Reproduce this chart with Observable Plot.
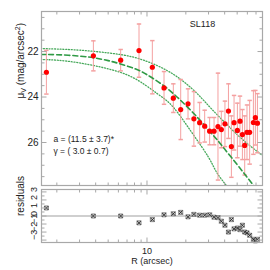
<!DOCTYPE html>
<html><head><meta charset="utf-8">
<script src="https://cdn.jsdelivr.net/npm/d3@7"></script>
<script src="https://cdn.jsdelivr.net/npm/@observablehq/plot@0.6"></script>
<style>
html,body{margin:0;padding:0;background:#fff;}
#chart svg{display:block;}
</style></head><body><div id="chart"></div>
<script>
// observed profile (R in arcsec, surface brightness in mag/arcsec^2)
const R = [1.66, 3.84, 6.25, 8.67, 11.0, 13.55, 16.0, 18.25, 20.8, 23.1, 25.6, 28.0, 30.6, 33.1, 35.5, 37.7, 40.2, 42.8, 45.1, 47.3, 50.2, 52.6, 54.9, 57.2, 59.6, 62.5, 66.8, 69.2, 71.8];
const mu = [22.91, 22.19, 22.38, 21.96, 22.69, 23.60, 24.05, 24.55, 24.30, 24.96, 25.13, 25.28, 25.50, 25.50, 25.30, 25.43, 25.18, 24.62, 26.18, 25.13, 25.47, 25.06, 25.65, 26.13, 25.55, 25.55, 25.12, 24.91, 25.15];
const muErr = [0.96, 0.66, 0.47, 1.17, 1.17, 0.72, 0.63, 1.32, 0.66, 1.2, 0.89, 0.7, 0.6, 0.6, 2.35, 0.8, 1.0, 1.2, 1.35, 1.2, 1.2, 1.1, 1.1, 1.3, 1.2, 1.4, 1.4, 1.2, 1.3];
const resid = [1.0, 0.0, 0.0, -0.85, -0.45, 0.15, 0.28, 0.45, -0.1, 0.2, 0.1, 0.1, 0.15, -0.15, -0.2, -0.65, -1.15, -2.0, -0.45, -1.6, -1.5, -1.7, -1.15, -2.0, -2.1, -2.4, -2.9, -3.1, -2.9];

// fitted curve and its bounds
const fitR = [1.5, 2, 3, 4, 5, 6, 8, 10, 13, 16, 20, 25, 30, 35, 40, 50, 60, 70];
const fitMu = [22.13, 22.14, 22.20, 22.29, 22.40, 22.52, 22.75, 23.02, 23.44, 23.85, 24.37, 24.94, 25.45, 25.88, 26.29, 26.97, 27.54, 28.03];
const upperR = [1.5, 2, 3, 5, 8, 12, 16, 20, 25, 32, 45, 60, 80];
const upperMu = [21.87, 21.89, 21.94, 22.06, 22.26, 22.62, 23.0, 23.4, 23.9, 24.55, 25.4, 26.05, 26.6];
const lowerR = [1.5, 2, 3, 5, 8, 12, 16, 22.5, 30, 35, 42, 50];
const lowerMu = [22.35, 22.38, 22.5, 22.76, 23.18, 23.85, 24.45, 25.6, 26.65, 27.35, 27.95, 28.6];

// ticks
const xMajorTicks = [10];
const xMinorTicks = [2, 3, 4, 5, 6, 7, 8, 9, 20, 30, 40, 50, 60, 70];
const yMajor = [22, 24, 26];
const yMinor = [20.5, 21, 21.5, 22.5, 23, 23.5, 24.5, 25, 25.5, 26.5, 27, 27.5];
const rMajor = [3, 2, 1, 0, -1, -2, -3];
const rMinor = [-2.5, -1.5, -0.5, 0.5, 1.5, 2.5];

const objectName = "SL118";
const paramA = "a = (11.5 ± 3.7)*";
const paramG = "γ = ( 3.0 ± 0.7)";
const yLabel = "μV (mag/arcsec2)";
const rLabel = "residuals";
const xLabel = "R (arcsec)";

const points = R.map((r, i) => ({R: r, mu: mu[i], err: muErr[i], res: resid[i]}));
const fit = fitR.map((r, i) => ({R: r, mu: fitMu[i]}));
const upper = upperR.map((r, i) => ({R: r, mu: upperMu[i]}));
const lower = lowerR.map((r, i) => ({R: r, mu: lowerMu[i]}));

const GRAY = "#a8a8a8";
const seg = (dx, dy) => ({draw(ctx, size) { const r = Math.sqrt(size / Math.PI); ctx.moveTo(0, 0); ctx.lineTo(dx * r, dy * r); }});
const hbar = {draw(ctx, size) { const r = Math.sqrt(size / Math.PI); ctx.moveTo(-r, 0); ctx.lineTo(r, 0); }};

function frameTicks(yMaj, yMin) {
  const c = {stroke: GRAY, strokeWidth: 1, fill: "none"};
  return [
    Plot.dot(xMinorTicks, {x: d => d, frameAnchor: "top", symbol: seg(0, 1), r: 3, ...c}),
    Plot.dot(xMajorTicks, {x: d => d, frameAnchor: "top", symbol: seg(0, 1), r: 5, ...c}),
    Plot.dot(xMinorTicks, {x: d => d, frameAnchor: "bottom", symbol: seg(0, -1), r: 3, ...c}),
    Plot.dot(xMajorTicks, {x: d => d, frameAnchor: "bottom", symbol: seg(0, -1), r: 5, ...c}),
    Plot.dot(yMin, {y: d => d, frameAnchor: "left", symbol: seg(1, 0), r: 3, ...c}),
    Plot.dot(yMaj, {y: d => d, frameAnchor: "left", symbol: seg(1, 0), r: 5, ...c}),
    Plot.dot(yMin, {y: d => d, frameAnchor: "right", symbol: seg(-1, 0), r: 3, ...c}),
    Plot.dot(yMaj, {y: d => d, frameAnchor: "right", symbol: seg(-1, 0), r: 5, ...c})
  ];
}

const xScale = {type: "log", domain: [1.521, 78.6]};
const style = {fontFamily: "'Liberation Sans', Arial, sans-serif", fontSize: "10px", color: "#222", background: "white", overflow: "visible"};

const topPlot = Plot.plot({
  width: 270, height: 187,
  marginLeft: 41, marginRight: 8, marginTop: 11, marginBottom: 2,
  style,
  x: {...xScale, axis: null},
  y: {domain: [27.89, 20.24]},
  marks: [
    Plot.line(upper, {x: "R", y: "mu", curve: "natural", stroke: "#46a85a", strokeWidth: 1.3, strokeDasharray: "1,1.8", clip: true}),
    Plot.line(lower, {x: "R", y: "mu", curve: "natural", stroke: "#46a85a", strokeWidth: 1.3, strokeDasharray: "1,1.8", clip: true}),
    Plot.ruleX(points, {x: "R", y1: d => d.mu - d.err, y2: d => d.mu + d.err, stroke: "#f4a0a0", strokeWidth: 1, clip: true}),
    Plot.dot(points, {x: "R", y: d => d.mu - d.err, symbol: hbar, r: 2.2, stroke: "#f4a0a0", fill: "none", clip: true}),
    Plot.dot(points, {x: "R", y: d => d.mu + d.err, symbol: hbar, r: 2.2, stroke: "#f4a0a0", fill: "none", clip: true}),
    Plot.line(fit, {x: "R", y: "mu", curve: "natural", stroke: "#2f9a45", strokeWidth: 1.6, strokeDasharray: "5,3", clip: true}),
    Plot.dot(points, {x: "R", y: "mu", r: 2.6, fill: "#ff0000", stroke: "none"}),
    Plot.frame({stroke: GRAY, strokeWidth: 1.2}),
    ...frameTicks(yMajor, yMinor),
    Plot.axisY({anchor: "left", ticks: yMajor, tickSize: 0, tickPadding: 3, fontSize: 10, label: null, tickFormat: d => String(d)}),
    Plot.text([objectName], {text: d => d, frameAnchor: "top-right", dx: -60, dy: 13, fontSize: 9, textAnchor: "middle", lineAnchor: "middle"}),
    Plot.text([paramA], {text: d => d, frameAnchor: "bottom-left", dx: 12, dy: -46, fontSize: 8.5, textAnchor: "start", lineAnchor: "middle"}),
    Plot.text([paramG], {text: d => d, frameAnchor: "bottom-left", dx: 12, dy: -34, fontSize: 8.5, textAnchor: "start", lineAnchor: "middle"}),
    Plot.text([yLabel], {text: d => d, frameAnchor: "left", dx: -21, rotate: -90, fontSize: 10})
  ]
});

const bottomPlot = Plot.plot({
  width: 270, height: 83,
  marginLeft: 41, marginRight: 8, marginTop: 2, marginBottom: 28,
  style,
  x: xScale,
  y: {domain: [-3.3, 3.3], axis: null},
  marks: [
    Plot.ruleY([0], {stroke: "#cfcfcf", strokeWidth: 2}),
    Plot.dot(points, {x: "R", y: "res", symbol: "square", r: 2.3, fill: "#d6d6d6", stroke: "#777", strokeWidth: 0.8}),
    Plot.dot(points, {x: "R", y: "res", symbol: "times", r: 1.9, stroke: "#222", strokeWidth: 0.9, fill: "none"}),
    Plot.frame({stroke: GRAY, strokeWidth: 1.2}),
    ...frameTicks(rMajor, rMinor),
    Plot.text(rMajor, {y: d => d, text: d => d < 0 ? "−" + Math.abs(d) : String(d), frameAnchor: "left", dx: -7, rotate: -90, fontSize: 9}),
    Plot.text([rLabel], {text: d => d, frameAnchor: "left", dx: -21, rotate: -90, fontSize: 10}),
    Plot.axisX({anchor: "bottom", ticks: xMajorTicks, tickSize: 0, tickPadding: 5, fontSize: 9, label: null, tickFormat: d => String(d)}),
    Plot.text([xLabel], {text: d => d, frameAnchor: "bottom", dy: 19, fontSize: 9, lineAnchor: "middle"})
  ]
});

function decorate(svg) {
  d3.select(svg).selectAll("text").each(function() {
    if (this.textContent === yLabel) {
      const t = d3.select(this);
      t.text(null);
      t.append("tspan").text("μ");
      t.append("tspan").attr("font-size", "7px").attr("dy", "2").text("V");
      t.append("tspan").attr("dy", "-2").text(" (mag/arcsec");
      t.append("tspan").attr("font-size", "7px").attr("dy", "-4").text("2");
      t.append("tspan").attr("dy", "4").text(")");
    }
  });
}
decorate(topPlot);

const chart = document.getElementById("chart");
chart.appendChild(topPlot);
chart.appendChild(bottomPlot);
</script>
</body></html>
